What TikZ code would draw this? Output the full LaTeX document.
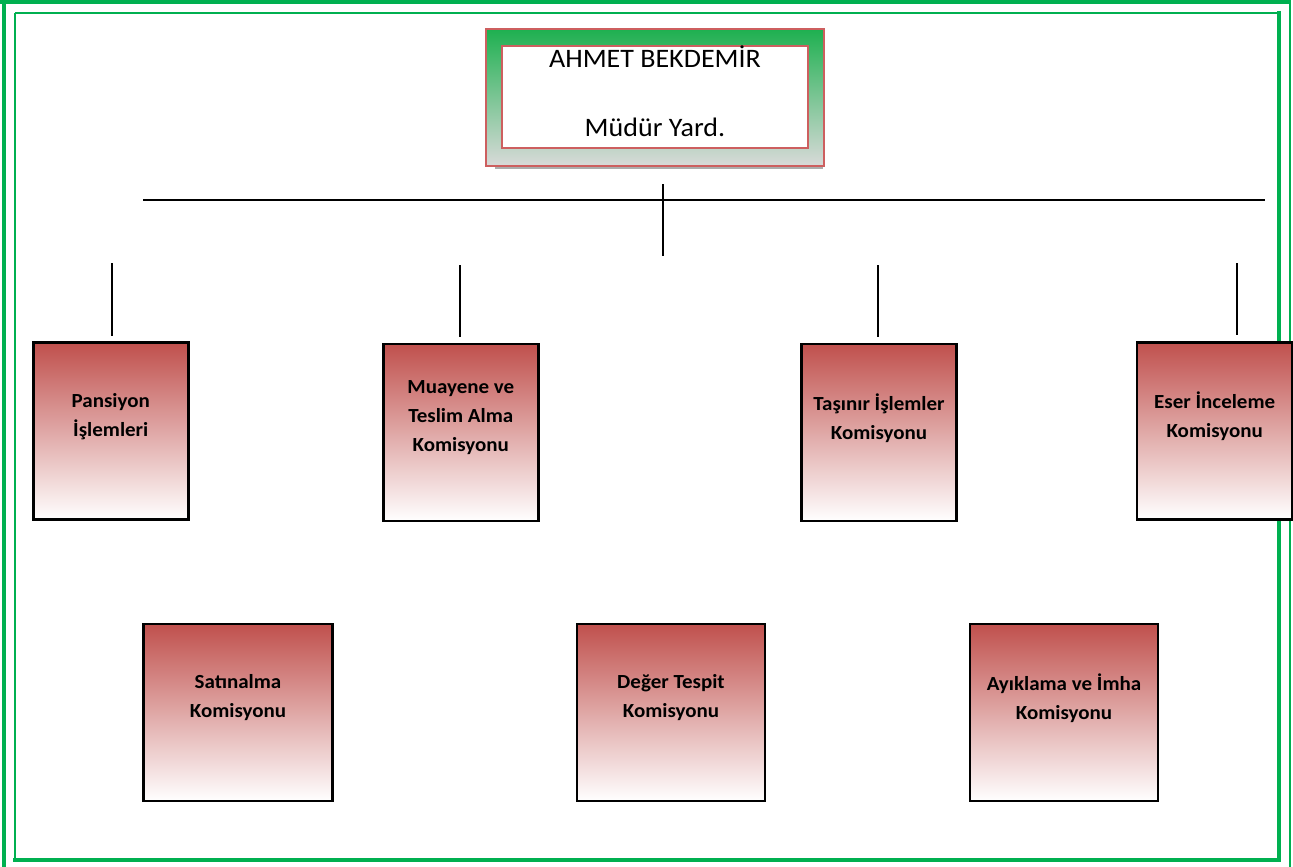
\documentclass[tikz,border=0pt]{standalone}
\usepackage{fontspec}
\setmainfont{Carlito}[FakeStretch=1.05]
\usetikzlibrary{positioning}
\definecolor{pageg}{RGB}{0,176,80}
\definecolor{boxred}{RGB}{192,80,77}
\definecolor{headg}{RGB}{30,176,80}
\definecolor{headgray}{RGB}{217,218,217}
\definecolor{headred}{RGB}{205,95,95}

\begin{document}
\begin{tikzpicture}[line cap=butt,line join=miter,x=0.75pt,y=-0.75pt,
  cbox/.style={draw=black,line width=1.9pt,top color=boxred,bottom color=white,inner sep=0pt,minimum height=177*0.75pt},
  ctext/.style={font=\bfseries\fontsize{15}{21.75}\selectfont,align=center,inner sep=0pt},
  stem/.style={line width=1.5pt},
  thickg/.style={pageg,line width=3pt},
  thing/.style={pageg,line width=1.5pt}]
\useasboundingbox (0,0) rectangle (1293,867);
% page border
\draw[thickg] (3.7,0) -- (3.7,867);
\draw[thickg] (0,1.7) -- (1291,1.7);
\draw[thing] (1290,0) -- (1290,867);
\draw[thing] (15,13) -- (1279,13);
\draw[thing] (15,13) -- (15,860);
\draw[thickg] (13,860) -- (1281,860);
\draw[thickg] (1279,11) -- (1279,862);
% head box
\fill[gray!65] (495,164) rectangle (823,169);
\node[draw=headred,line width=1.2pt,top color=headg,bottom color=headgray,inner sep=0pt,
  minimum width=338*0.75pt,minimum height=137*0.75pt] (head) at (655,97.5) {};
\node[draw=headred,fill=white,line width=1.2pt,inner sep=0pt,
  minimum width=306*0.75pt,minimum height=102*0.75pt] (headin) at (655,97) {};
\node[anchor=base,inner sep=0pt,font=\fontsize{20}{24}\selectfont] (name) at (655,67.7) {AHMET BEKDEM{İ}R};
\node[anchor=base,inner sep=0pt,font=\fontsize{20}{24}\selectfont] (title) at (655,136.7) {Müdür Yard.};
% bar
\coordinate (barl) at (143,200);
\coordinate (barr) at (1265,200);
\coordinate (midt) at (663,184);
\coordinate (midb) at (663,256);
\draw[stem] (barl) -- (barr);
\draw[stem] (midt) -- (midb);
\foreach \i/\x/\a/\b in {1/112/263/336,2/460/265/337,3/878/265/337,4/1237/263/335}
{
\coordinate (st\i) at (\x,\a);
\coordinate (sb\i) at (\x,\b);
\draw[stem] (st\i) -- (sb\i);
}
% boxes
\foreach \nm/\cx/\cy/\w/\txt in {pansiyon/110.8/431.2/155/{Pansiyon\\{İ}şlemleri},
  muayene/460.8/432.5/155/{Muayene ve\\Teslim Alma\\Komisyonu},
  tasinir/879/432.5/155/{Taşınır {İ}şlemler\\Komisyonu},
  eser/1214.7/430.8/155/{Eser {İ}nceleme\\Komisyonu},
  satinalma/238/712.5/189/{Satınalma\\Komisyonu},
  deger/671/712.5/188/{Değer Tespit\\Komisyonu},
  ayiklama/1064/712.5/188/{Ayıklama ve {İ}mha\\Komisyonu}}
{
\node[cbox,minimum width=\w*0.75pt] (\nm) at (\cx,\cy) {};
\node[ctext] (\nm-t) at ([yshift=-75*0.75pt]\nm.north) {\txt};
}
\end{tikzpicture}
\end{document}
